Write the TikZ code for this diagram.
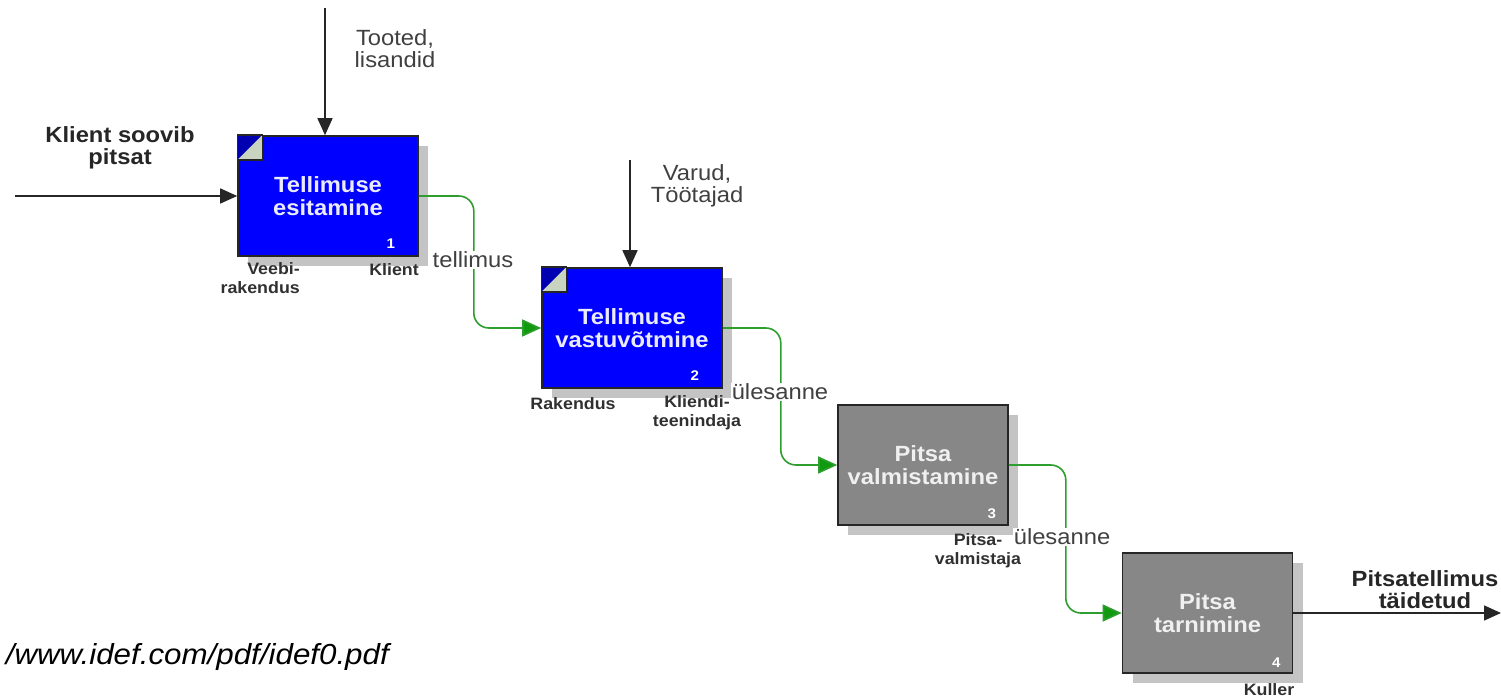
\documentclass[tikz,border=0pt]{standalone}
\usepackage{fontspec}
\setmainfont{Liberation Sans}[FakeStretch=1.08]
\usetikzlibrary{arrows.meta,shadows}

\definecolor{actblue}{HTML}{0000FF}
\definecolor{actgray}{HTML}{878787}
\definecolor{shadowgray}{HTML}{C4C4C4}
\definecolor{flowgreen}{HTML}{2E9E2E}
\definecolor{tipgreen}{HTML}{109A10}
\definecolor{labelgray}{HTML}{404040}
\definecolor{mechgray}{HTML}{303030}
\definecolor{icongreen}{HTML}{C8D4C0}

\tikzset{
  activity/.style={draw=black!85, line width=1.6pt, minimum height=120pt,
    align=center, inner sep=0pt, text=white,
    font=\fontsize{22}{23}\selectfont\bfseries,
    drop shadow={shadow xshift=10pt, shadow yshift=-10pt, fill=shadowgray, opacity=1}},
  bluebox/.style={activity, fill=actblue, minimum width=180pt, text=white!92!blue},
  graybox/.style={activity, fill=actgray, minimum width=170pt, text=white!88!gray},
  boxnum/.style={font=\fontsize{14}{14}\selectfont\bfseries, text=white, inner sep=0pt},
  arrowlabel/.style={align=center, text=labelgray, inner sep=1pt,
    font=\fontsize{22}{22}\selectfont},
  boldlabel/.style={align=center, text=black!85, inner sep=1pt,
    font=\fontsize{22}{22}\selectfont\bfseries},
  mechlabel/.style={align=center, text=mechgray, inner sep=0pt,
    font=\fontsize{16.5}{19}\selectfont\bfseries},
  blackarrow/.style={draw=black!85, line width=1.5pt,
    -{Triangle[length=17pt,width=15pt]}},
  flow/.style={draw=flowgreen, line width=1.6pt, rounded corners=15pt,
    -{Triangle[length=19pt,width=17pt,fill=tipgreen]}},
}

\begin{document}
\begin{tikzpicture}[x=1pt,y=-1pt]
  \useasboundingbox (0,0) rectangle (1501,700);

  % activity boxes
  \node[bluebox] (b1) at (328,196) {Tellimuse\\esitamine};
  \node[bluebox] (b2) at (632,328) {Tellimuse\\vastuvõtmine};
  \node[graybox] (b3) at (923,465) {Pitsa\\valmistamine};
  \node[graybox] (b4) at (1207.5,613) {Pitsa\\tarnimine};

  % decomposition markers on the blue boxes
  \foreach \b in {b1,b2} {
    \fill[actblue!70!black] (\b.north west) -- ++(25,0) -- ++(-25,25) -- cycle;
    \fill[icongreen] (\b.north west) ++(25,0) -- ++(0,25) -- ++(-25,0) -- cycle;
    \draw[black!85, line width=1.4pt] (\b.north west) rectangle ++(25,25);
  }

  % box numbers
  \node[boxnum] (n1) at ([xshift=-28pt,yshift=13pt]b1.south east) {1};
  \node[boxnum] (n2) at ([xshift=-28pt,yshift=13pt]b2.south east) {2};
  \node[boxnum] (n3) at ([xshift=-17pt,yshift=12pt]b3.south east) {3};
  \node[boxnum] (n4) at ([xshift=-17pt,yshift=11pt]b4.south east) {4};

  % mechanisms
  \node[mechlabel, anchor=east, align=right] (m1a) at (300,278) {Veebi-\\rakendus};
  \node[mechlabel] (m1b) at (394,270) {Klient};
  \node[mechlabel] (m2a) at (573,404) {Rakendus};
  \node[mechlabel] (m2b) at (697,413) {Kliendi-\\teenindaja};
  \node[mechlabel] (m3) at (978,551) {Pitsa-\\valmistaja};
  \node[mechlabel] (m4) at (1269,690) {Kuller};

  % input and controls
  \coordinate (inStart) at (15,196);
  \coordinate (c1Start) at (325,8);
  \coordinate (c2Start) at (630,160);
  \coordinate (outEnd) at (1501,613);

  \draw[blackarrow] (inStart) -- (b1.west);
  \draw[blackarrow] (c1Start) -- (c1Start |- b1.north);
  \draw[blackarrow] (c2Start) -- (c2Start |- b2.north);
  \draw[blackarrow] (b4.east) -- (outEnd);

  \node[boldlabel] (lin) at (120,148) {Klient soovib\\pitsat};
  \node[arrowlabel] (lc1) at (395,49) {Tooted,\\lisandid};
  \node[arrowlabel] (lc2) at (697,186) {Varud,\\Töötajad};
  \node[boldlabel] (lout) at (1425,590) {Pitsatellimus\\täidetud};

  % flows between activities
  \draw[flow] (b1.east) -- ++(55,0) |- (b2.west);
  \draw[flow] (b2.east) -- ++(58,0) |- (b3.west);
  \draw[flow] (b3.east) -- ++(57,0) |- (b4.west);

  \node[arrowlabel, fill=white] (f1) at (473,260) {tellimus};
  \node[arrowlabel, fill=white] (f2) at (780,392) {ülesanne};
  \node[arrowlabel, fill=white] (f3) at (1062,537) {ülesanne};

  % source reference
  \node[anchor=east, inner sep=0pt, text=black, font=\fontsize{29}{29}\selectfont\itshape]
    (src) at (389,657) {/www.idef.com/pdf/idef0.pdf};
\end{tikzpicture}
\end{document}
